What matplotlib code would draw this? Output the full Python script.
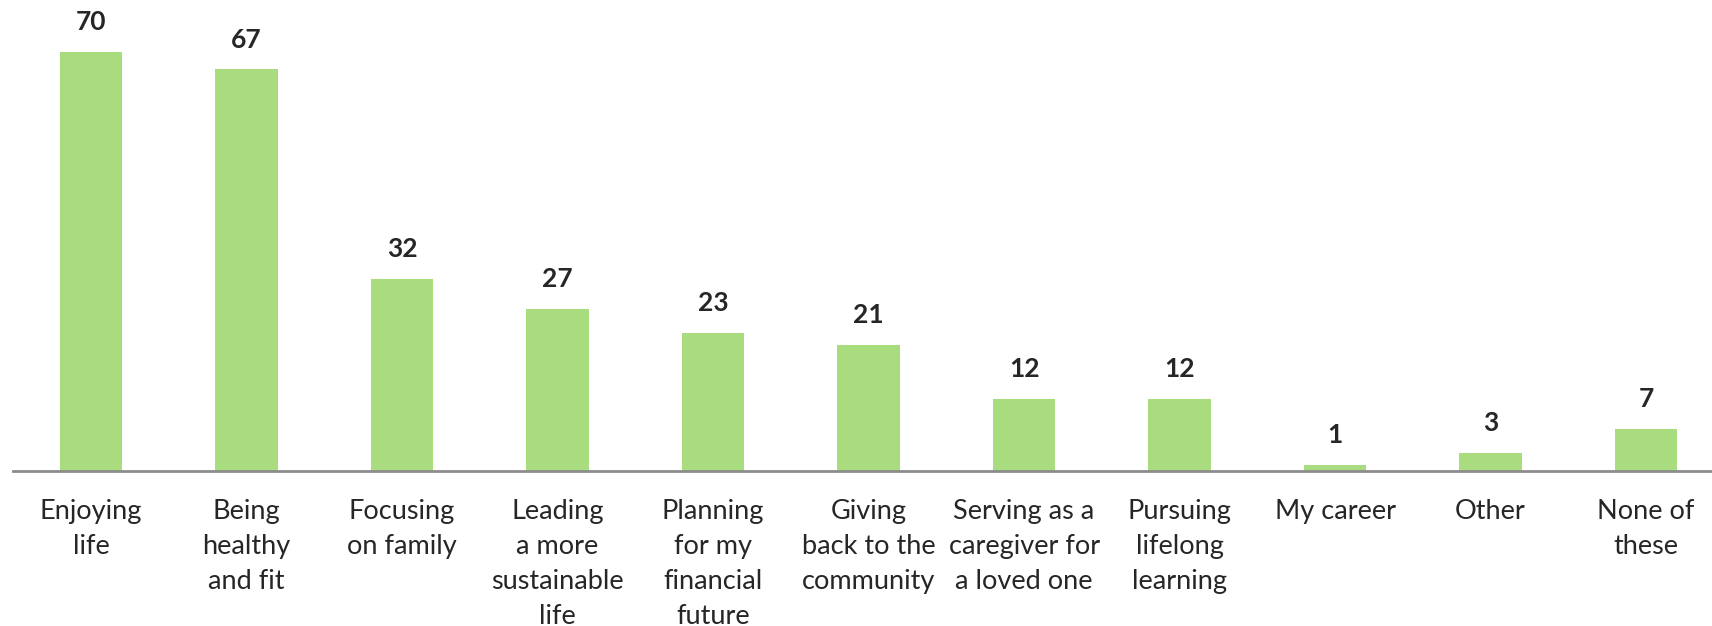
import numpy as np
import matplotlib.pyplot as plt

categories = ["Enjoying\nlife", "Being\nhealthy\nand fit", "Focusing\non family",
              "Leading\na more\nsustainable\nlife", "Planning\nfor my\nfinancial\nfuture",
              "Giving\nback to the\ncommunity", "Serving as a\ncaregiver for\na loved one",
              "Pursuing\nlifelong\nlearning", "My career", "Other", "None of\nthese"]
values = [70, 67, 32, 27, 23, 21, 12, 12, 1, 3, 7]

plt.rcParams['font.family'] = ['Lato', 'DejaVu Sans']

fig = plt.figure(figsize=(17.12, 6.26), dpi=100)
ax = fig.add_axes([0.0078, 0.248, 0.9991, 0.752])

x = np.arange(len(values))
bars = ax.bar(x, values, width=0.40, color='#a8dc7e')
for xi, v in zip(x, values):
    ax.text(xi, v + 3.0, str(v), ha='center', va='bottom', fontsize=19,
            fontweight='bold', color='#262626')

ax.set_xlim(-0.5, len(values) - 0.5)
ax.set_ylim(0, 78.6)
ax.set_xticks(x)
ax.set_xticklabels(categories, fontsize=19.5, color='#262626', linespacing=1.5)
ax.tick_params(axis='x', length=0, pad=20)
ax.set_yticks([])
for s in ['top', 'right', 'left']:
    ax.spines[s].set_visible(False)
ax.spines['bottom'].set_color('#8c8c8c')
ax.spines['bottom'].set_linewidth(2)

fig.savefig('out.png', dpi=100)
